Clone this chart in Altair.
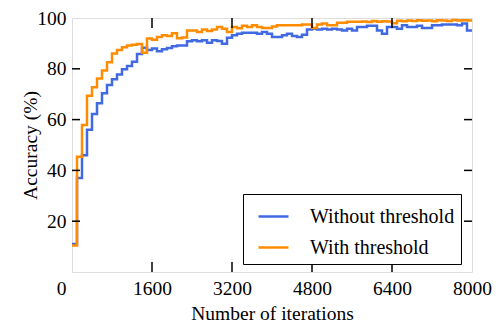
import altair as alt
import pandas as pd

iterations = list(range(0, 8100, 100))

without_threshold = [
    11.0, 37.0, 46.0, 56.0, 62.2, 66.4, 70.4, 73.6, 75.9, 77.8,
    79.8, 81.1, 82.8, 85.8, 88.3, 87.4, 88.0, 86.9, 87.7, 88.2,
    88.9, 89.2, 89.2, 90.8, 91.2, 90.8, 91.2, 90.3, 91.2, 90.9,
    89.9, 92.2, 93.2, 93.8, 94.2, 94.2, 94.2, 93.8, 94.5, 93.8,
    92.5, 92.5, 93.2, 93.8, 92.9, 92.5, 93.4, 95.5, 95.8, 95.5,
    95.8, 95.5, 95.8, 95.5, 95.1, 95.8, 95.1, 96.5, 96.5, 96.9,
    96.9, 95.1, 93.8, 96.5, 96.5, 95.8, 97.1, 96.5, 96.5, 96.9,
    96.1, 96.1, 97.1, 97.1, 97.4, 97.4, 97.4, 97.1, 97.8, 95.1,
    95.1,
]

with_threshold = [
    10.4, 45.4, 57.9, 69.4, 72.7, 76.2, 79.3, 82.6, 86.0, 87.4,
    88.5, 89.2, 89.5, 89.8, 86.3, 91.9, 91.4, 92.5, 93.2, 92.9,
    94.0, 92.0, 92.3, 95.1, 95.1, 94.5, 95.5, 94.9, 95.5, 96.5,
    95.8, 94.5, 96.5, 96.0, 96.9, 96.5, 97.1, 96.5, 96.1, 96.1,
    96.7, 97.1, 97.1, 97.1, 97.1, 97.1, 97.4, 97.4, 96.1, 97.4,
    97.8, 97.1, 97.1, 98.1, 98.1, 98.5, 98.5, 98.5, 98.6, 98.4,
    98.8, 98.5, 98.7, 98.6, 97.9, 98.9, 98.7, 99.0, 98.8, 99.1,
    98.9, 99.0, 98.7, 99.1, 99.0, 98.8, 99.2, 99.0, 99.1, 99.0,
    99.0,
]

series_names = ["Without threshold", "With threshold"]
series_colors = ["#4169E1", "#FF8C00"]

x_ticks = [0, 1600, 3200, 4800, 6400, 8000]
y_ticks = [20, 40, 60, 80, 100]
x_inner_ticks = [1600, 3200, 4800, 6400]
y_inner_ticks = [20, 40, 60, 80]

rows = []
for it, v in zip(iterations, without_threshold):
    rows.append({"it": it, "acc": v, "series": series_names[0], "ord": 0})
for it, v in zip(iterations, with_threshold):
    rows.append({"it": it, "acc": v, "series": series_names[1], "ord": 1})
df = pd.DataFrame(rows)

W, H = 400, 254
FONT = "Liberation Serif"

xscale = alt.Scale(domain=[0, 8000], nice=False)
yscale = alt.Scale(domain=[0, 100], nice=False)

x_axis = alt.Axis(values=x_ticks, format="d", grid=False, ticks=False, domain=False,
                  labelFlush=False, labelPadding=7, labelFontSize=19.5, labelFont=FONT,
                  labelColor="black", titleFont=FONT, titleFontSize=19.5,
                  titleFontWeight="normal", titleColor="black",
                  titleX=200, titleY=41, titleBaseline="middle",
                  labelOffset={"condition": {"test": "datum.value === 0", "value": -11}, "value": 0})
y_axis = alt.Axis(values=y_ticks, format="d", grid=False, ticks=False, domain=False,
                  labelFlush=False, labelPadding=6, labelFontSize=19.5, labelFont=FONT,
                  labelColor="black", titleFont=FONT, titleFontSize=19.5,
                  titleFontWeight="normal", titleColor="black",
                  titleX=-42, titleY=127, titleAngle=-90,
                  titleAlign="center", titleBaseline="middle")

lines = alt.Chart(df).mark_line(interpolate="step-after", strokeWidth=2.5).encode(
    x=alt.X("it:Q", scale=xscale, title="Number of iterations", axis=x_axis),
    y=alt.Y("acc:Q", scale=yscale, title="Accuracy (%)", axis=y_axis),
    color=alt.Color("series:N",
                    scale=alt.Scale(domain=series_names, range=series_colors),
                    legend=alt.Legend(title=None, orient="none", legendX=171, legendY=176,
                                      symbolType="stroke", symbolSize=900,
                                      symbolStrokeWidth=2.5, symbolOffset=8,
                                      labelOffset=20, labelFont=FONT, labelFontSize=20,
                                      labelColor="black", rowPadding=4, padding=6,
                                      strokeColor="black", fillColor="white",
                                      labelLimit=300)),
    order=alt.Order("ord:Q"),
    detail="series:N",
)

ytick_df = pd.DataFrame({"v": y_inner_ticks})
xtick_df = pd.DataFrame({"v": x_inner_ticks})

left_ticks = alt.Chart(ytick_df).mark_rule(color="black", strokeWidth=1.5).encode(
    y=alt.Y("v:Q", scale=yscale, title="Accuracy (%)", axis=y_axis),
    x=alt.value(0), x2=alt.value(8))
right_ticks = alt.Chart(ytick_df).mark_rule(color="black", strokeWidth=1.5).encode(
    y=alt.Y("v:Q", scale=yscale, title="Accuracy (%)", axis=y_axis),
    x=alt.value(W - 8), x2=alt.value(W))
bottom_ticks = alt.Chart(xtick_df).mark_rule(color="black", strokeWidth=1.5).encode(
    x=alt.X("v:Q", scale=xscale, title="Number of iterations", axis=x_axis),
    y=alt.value(H), y2=alt.value(H - 10))
top_ticks = alt.Chart(xtick_df).mark_rule(color="black", strokeWidth=1.5).encode(
    x=alt.X("v:Q", scale=xscale, title="Number of iterations", axis=x_axis),
    y=alt.value(0), y2=alt.value(10))

chart = alt.layer(lines, left_ticks, right_ticks, bottom_ticks, top_ticks).properties(
    width=W, height=H,
    autosize=alt.AutoSizeParams(type="none"),
    padding={"left": 72, "top": 18, "right": 31, "bottom": 52},
).configure_view(stroke="black", strokeWidth=2.2).configure(
    background="white", font=FONT
).configure_axis(labelFont=FONT, titleFont=FONT)

chart.save("out.html", embed_options={"renderer": "svg", "actions": False})
